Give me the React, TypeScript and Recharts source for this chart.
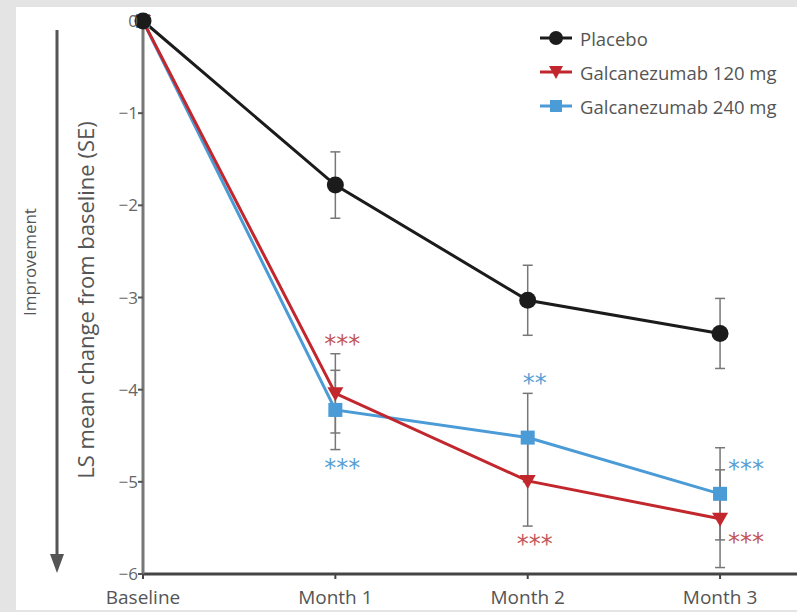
import React from "react";
import {
  LineChart,
  Line,
  XAxis,
  YAxis,
  ErrorBar,
  LabelList,
} from "recharts";

// values
const categories = ["Baseline", "Month 1", "Month 2", "Month 3"];
const placebo = [0, -1.78, -3.03, -3.39];
const placeboSe = [null, 0.36, 0.38, 0.38];
const galc120 = [0, -4.04, -4.99, -5.4];
const galc120Se = [null, 0.43, 0.49, 0.53];
const galc240 = [0, -4.22, -4.52, -5.13];
const galc240Se = [null, 0.43, 0.48, 0.5];
const stars120 = ["", "***", "***", "***"];
const stars240 = ["", "***", "**", "***"];
const yTicks = [0, -1, -2, -3, -4, -5, -6];

const data = categories.map((c, i) => ({
  x: i,
  placebo: placebo[i],
  placeboSe: placeboSe[i],
  g120: galc120[i],
  g120Se: galc120Se[i],
  g240: galc240[i],
  g240Se: galc240Se[i],
  s120: stars120[i],
  s240: stars240[i],
}));

const FONT = "'Open Sans', 'Noto Sans', sans-serif";
const BLACK = "#1b1b1b";
const RED = "#c1272d";
const BLUE = "#4a9bd6";
const RED_STAR = "#c2565a";
const BLUE_STAR = "#5a9fd4";

const W = 797;
const H = 612;
const TOP = 21;
const BOTTOM = 574;
const UNIT = (BOTTOM - TOP) / 6;

// where the significance stars sit relative to each point
const side120 = ["", "above", "below", "right"];
const side240 = ["", "below", "above", "right"];

const circleDot = (p: any) => (
  <circle key={p.index} cx={p.cx} cy={p.cy} r={8.5} fill={BLACK} />
);
const squareDot = (p: any) => (
  <rect key={p.index} x={p.cx - 7} y={p.cy - 7} width={14} height={14} fill={BLUE} />
);
const triDot = (p: any) => (
  <path
    key={p.index}
    d={`M${p.cx - 8},${p.cy - 6} L${p.cx + 8},${p.cy - 6} L${p.cx},${p.cy + 8} Z`}
    fill={RED}
  />
);

function starLabel(sides: string[], seList: (number | null)[], color: string) {
  return (props: any) => {
    const { x, y, value, index } = props;
    if (!value) return null;
    const se = seList[index] || 0;
    const side = sides[index];
    let tx = x + 7;
    let ty = y;
    let anchor = "middle";
    if (side === "above") ty = y - se * UNIT - 2;
    if (side === "below") ty = y + se * UNIT + 26;
    if (side === "right") {
      tx = x + 8;
      anchor = "start";
      ty = y + (color === RED_STAR ? 31 : -17);
    }
    return (
      <text
        key={index}
        x={tx}
        y={ty}
        textAnchor={anchor}
        fill={color}
        fontSize={24}
        fontFamily="'DejaVu Sans', sans-serif"
      >
        {value}
      </text>
    );
  };
}

const legendItems = [
  { name: "Placebo", color: BLACK, shape: "circle" },
  { name: "Galcanezumab 120 mg", color: RED, shape: "tri" },
  { name: "Galcanezumab 240 mg", color: BLUE, shape: "square" },
];

const ChartLegend = () => (
  <div
    style={{
      position: "absolute",
      left: 540,
      top: 21,
      fontFamily: FONT,
      fontSize: 18.5,
      color: "#555",
    }}
  >
    {legendItems.map((it) => (
      <div key={it.name} style={{ display: "flex", alignItems: "center", height: 34 }}>
        <svg width={32} height={18}>
          <line x1={0} y1={9} x2={32} y2={9} stroke={it.color} strokeWidth={3} />
          {it.shape === "circle" && <circle cx={16} cy={9} r={7} fill={it.color} />}
          {it.shape === "tri" && <path d="M9,3 L23,3 L16,16 Z" fill={it.color} />}
          {it.shape === "square" && <rect x={10} y={3} width={12} height={12} fill={it.color} />}
        </svg>
        <span style={{ marginLeft: 8 }}>{it.name}</span>
      </div>
    ))}
  </div>
);

export default function App() {
  return (
    <div
      style={{
        position: "fixed",
        top: 0,
        left: 0,
        width: W,
        height: H,
        background: "#e4e4e4",
        overflow: "hidden",
      }}
    >
      <div
        style={{
          position: "absolute",
          left: 16,
          top: 7,
          right: 0,
          bottom: 2,
          background: "#fff",
        }}
      />
      {/* direction-of-improvement arrow */}
      <svg style={{ position: "absolute", left: 0, top: 0 }} width={120} height={H}>
        <line x1={57} y1={30} x2={57} y2={556} stroke="#555" strokeWidth={3} />
        <path d="M50,554 L64,554 L57,573 Z" fill="#555" />
        <text
          x={36}
          y={262}
          transform="rotate(-90 36 262)"
          textAnchor="middle"
          fontFamily={FONT}
          fontSize={17}
          fill="#555"
        >
          Improvement
        </text>
      </svg>
      <div style={{ position: "absolute", left: 0, top: 0 }}>
        <LineChart
          width={W}
          height={H}
          data={data}
          margin={{ top: TOP, right: 0, left: 0, bottom: 0 }}
        >
          <XAxis
            dataKey="x"
            type="number"
            domain={[0, 3.4]}
            ticks={[0, 1, 2, 3]}
            tickFormatter={(v: number) => categories[v]}
            height={H - BOTTOM}
            axisLine={{ stroke: "#444", strokeWidth: 3 }}
            tickLine={{ stroke: "#444", strokeWidth: 2 }}
            tickSize={5}
            tickMargin={12}
            tick={{ fontFamily: FONT, fontSize: 19, fill: "#555" }}
          />
          <YAxis
            type="number"
            domain={[-6, 0]}
            ticks={yTicks}
            interval={0}
            width={143}
            tickFormatter={(v: number) => String(v).replace("-", "\u2212")}
            axisLine={{ stroke: "#777", strokeWidth: 3 }}
            tickLine={{ stroke: "#555", strokeWidth: 2 }}
            tickSize={5}
            tickMargin={0}
            tick={{ fontFamily: FONT, fontSize: 17, fill: "#666" }}
            label={{
              value: "LS mean change from baseline (SE)",
              content: () => (
                <text
                  x={88}
                  y={300}
                  transform="rotate(-90 88 300)"
                  textAnchor="middle"
                  dominantBaseline="middle"
                  fontFamily={FONT}
                  fontSize={22}
                  fill="#555"
                >
                  LS mean change from baseline (SE)
                </text>
              ),
            }}
          />
          <Line
            dataKey="g240"
            stroke={BLUE}
            strokeWidth={3}
            dot={squareDot}
            activeDot={false}
            isAnimationActive={false}
          >
            <ErrorBar dataKey="g240Se" width={5} stroke="#777" strokeWidth={1.5} direction="y" />
            <LabelList dataKey="s240" content={starLabel(side240, galc240Se, BLUE_STAR)} />
          </Line>
          <Line
            dataKey="g120"
            stroke={RED}
            strokeWidth={3}
            dot={triDot}
            activeDot={false}
            isAnimationActive={false}
          >
            <ErrorBar dataKey="g120Se" width={5} stroke="#777" strokeWidth={1.5} direction="y" />
            <LabelList dataKey="s120" content={starLabel(side120, galc120Se, RED_STAR)} />
          </Line>
          <Line
            dataKey="placebo"
            stroke={BLACK}
            strokeWidth={3}
            dot={circleDot}
            activeDot={false}
            isAnimationActive={false}
          >
            <ErrorBar dataKey="placeboSe" width={5} stroke="#777" strokeWidth={1.5} direction="y" />
          </Line>
        </LineChart>
      </div>
      <ChartLegend />
    </div>
  );
}
